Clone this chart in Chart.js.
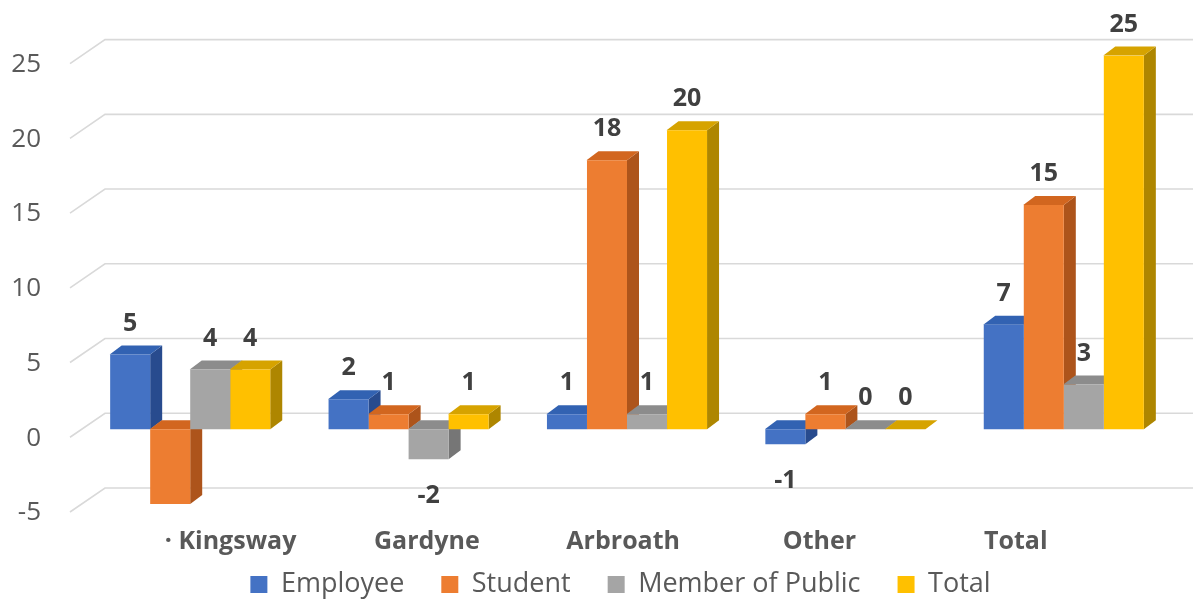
<!DOCTYPE html>
<html>
<head>
<meta charset="utf-8">
<script src="https://cdn.jsdelivr.net/npm/chart.js@4.4.1/dist/chart.umd.min.js"></script>
<style>
  html, body { margin: 0; padding: 0; background: #fff; }
  #wrap { width: 1197px; height: 602px; }
</style>
</head>
<body>
<div id="wrap"><canvas id="chart" width="1197" height="602"></canvas></div>
<script>
const categories = ['· Kingsway', 'Gardyne', 'Arbroath', 'Other', 'Total'];
const seriesNames = ['Employee', 'Student', 'Member of Public', 'Total'];
const employee = [5, 2, 1, -1, 7];
const student = [-5, 1, 18, 1, 15];
const memberOfPublic = [4, -2, 1, 0, 3];
const total = [4, 1, 20, 0, 25];

const frontColors = ['#4472C4', '#ED7D31', '#A5A5A5', '#FFC000'];
const topColors = ['#3262B2', '#D2661F', '#8C8C8C', '#D6A300'];
const sideColors = ['#284B8E', '#AD541B', '#767676', '#AE8600'];

// projected depth of one bar
const DEPTH_X = 12, DEPTH_Y = 9;

Chart.defaults.font.family = "'Open Sans', sans-serif";

const box3d = {
  id: 'box3d',
  beforeDatasetsDraw(chart) {
    const { ctx, chartArea, scales: { y } } = chart;
    ctx.save();
    // grid lines on the back wall, with the short slanted piece on the side wall
    ctx.strokeStyle = '#D9D9D9';
    ctx.lineWidth = 1.6;
    y.ticks.forEach(t => {
      const py = y.getPixelForValue(t.value);
      ctx.beginPath();
      ctx.moveTo(chartArea.left - 11, py + 8);
      ctx.lineTo(chartArea.left + 24, py - 16);
      ctx.lineTo(chart.width - 4, py - 16);
      ctx.stroke();
    });
    // tops and right sides, left to right, so the fronts drawn later hide what they should
    const metas = chart.data.datasets.map((d, i) => chart.getDatasetMeta(i));
    categories.forEach((c, j) => {
      metas.forEach((meta, i) => {
        const { x, y: yv, base, width } = meta.data[j].getProps(['x', 'y', 'base', 'width'], true);
        const left = x - width / 2, right = x + width / 2;
        const hi = Math.min(yv, base), lo = Math.max(yv, base);
        ctx.fillStyle = sideColors[i];
        ctx.beginPath();
        ctx.moveTo(right, hi);
        ctx.lineTo(right + DEPTH_X, hi - DEPTH_Y);
        ctx.lineTo(right + DEPTH_X, lo - DEPTH_Y);
        ctx.lineTo(right, lo);
        ctx.closePath();
        ctx.fill();
        ctx.fillStyle = topColors[i];
        ctx.beginPath();
        ctx.moveTo(left - 0.5, hi);
        ctx.lineTo(right, hi);
        ctx.lineTo(right + DEPTH_X, hi - DEPTH_Y);
        ctx.lineTo(left + DEPTH_X - 0.5, hi - DEPTH_Y);
        ctx.closePath();
        ctx.fill();
      });
    });
    ctx.restore();
  }
};

const valueLabels = {
  id: 'valueLabels',
  afterDatasetsDraw(chart) {
    const { ctx, chartArea } = chart;
    ctx.save();
    ctx.font = "bold 25px 'Open Sans', sans-serif";
    ctx.fillStyle = '#404040';
    ctx.textAlign = 'center';
    ctx.textBaseline = 'middle';
    chart.data.datasets.forEach((ds, i) => {
      chart.getDatasetMeta(i).data.forEach((bar, j) => {
        const v = ds.data[j];
        const { x, y, base } = bar.getProps(['x', 'y', 'base'], true);
        const ly = v >= 0 ? Math.min(y, base) - 31 : Math.max(y, base) + 37;
        // a label that would land among the category names is left out
        if (ly > chartArea.bottom) return;
        ctx.fillText(String(v), x, ly);
      });
    });
    ctx.restore();
  }
};

const layoutTweaks = {
  id: 'layoutTweaks',
  afterLayout(chart) {
    // nudge the legend to the right of the plot's centre line
    chart.legend.left += 34;
    chart.legend.right += 34;
    // the name axis is kept short, so let its labels draw past its box
    chart.scales.xNames.bottom = chart.height;
  }
};

new Chart(document.getElementById('chart'), {
  type: 'bar',
  data: {
    labels: categories,
    datasets: [employee, student, memberOfPublic, total].map((vals, i) => ({
      label: seriesNames[i],
      data: vals,
      backgroundColor: frontColors[i],
      borderWidth: 0,
      categoryPercentage: 0.733,
      barPercentage: 1
    }))
  },
  options: {
    responsive: false,
    animation: false,
    layout: { padding: { top: 53, right: 24, left: 0, bottom: 0 } },
    scales: {
      x: { display: false },
      // category names sit on their own, slightly narrower spacing
      xNames: {
        type: 'linear',
        position: 'bottom',
        offset: false,
        min: -0.762,
        max: 4.801,
        afterFit: s => { s.height = 30; },
        grid: { display: false, drawTicks: false, offset: false },
        border: { display: false },
        ticks: {
          stepSize: 1,
          includeBounds: false,
          autoSkip: false,
          maxRotation: 0,
          padding: 23,
          color: '#595959',
          font: { size: 25, weight: 'bold' },
          callback: v => categories[v] ?? ''
        }
      },
      y: {
        min: -5,
        max: 25,
        afterFit: s => { s.width = 81; },
        grid: { display: false, drawTicks: false },
        border: { display: false },
        ticks: {
          stepSize: 5,
          padding: 40,
          labelOffset: 9,
          color: '#595959',
          font: { size: 26 }
        }
      }
    },
    plugins: {
      legend: {
        position: 'bottom',
        maxHeight: 68,
        labels: {
          color: '#595959',
          font: { size: 27 },
          boxWidth: 17,
          boxHeight: 17,
          padding: 37
        }
      },
      tooltip: { enabled: false }
    }
  },
  plugins: [box3d, valueLabels, layoutTweaks]
});
</script>
</body>
</html>
